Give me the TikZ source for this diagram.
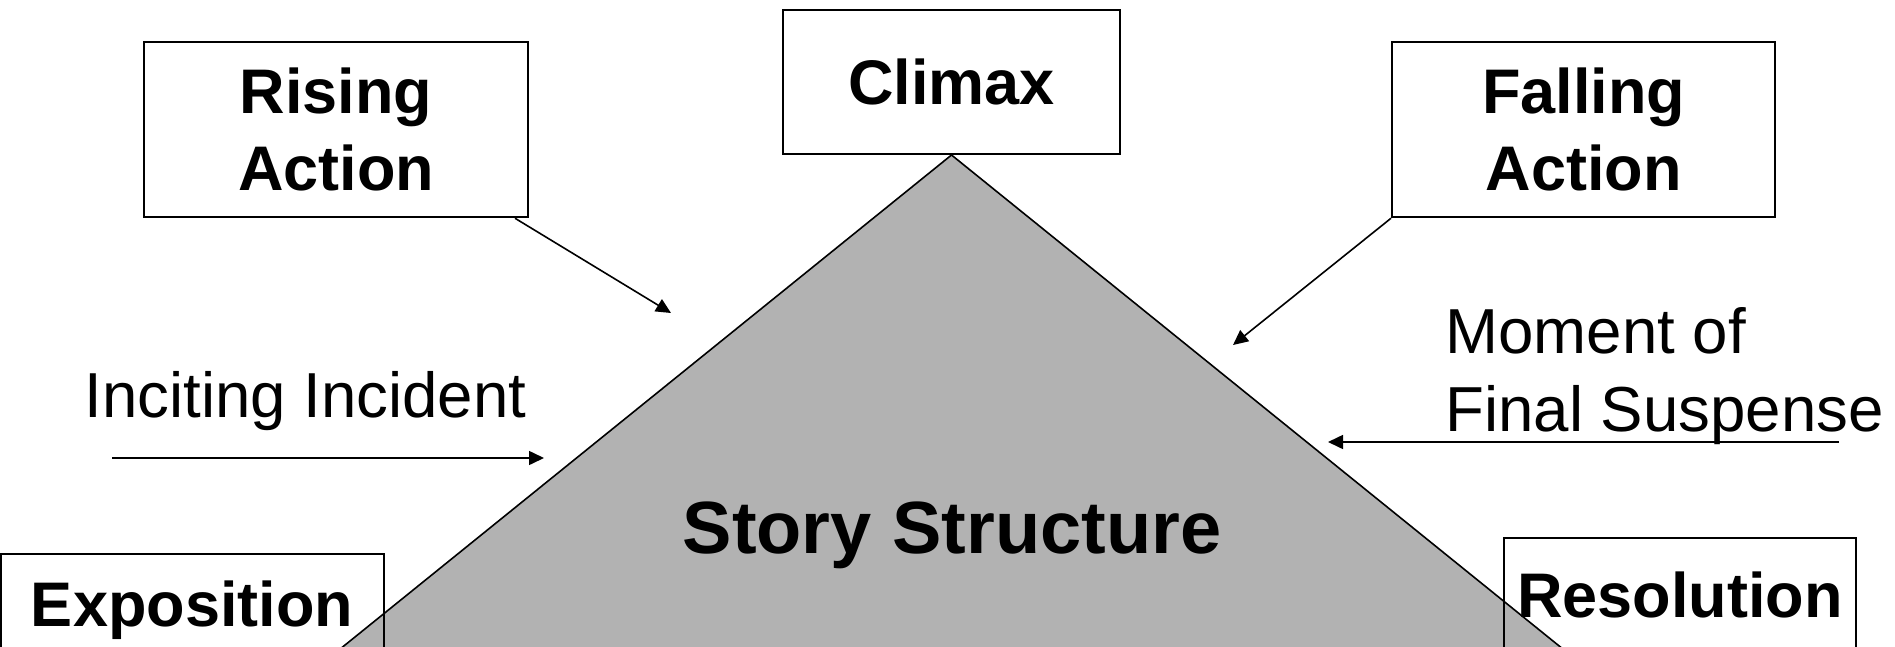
\documentclass[tikz,border=0pt]{standalone}
\usepackage{fontspec}
\setmainfont{Liberation Sans}
\usetikzlibrary{arrows.meta,calc}
\definecolor{trigray}{RGB}{178,178,178}
\begin{document}
\begin{tikzpicture}[x=0.5pt,y=-0.5pt,
  frame/.style={draw=black, line width=1pt, inner sep=0pt},
  box/.style={frame, align=center, font=\bfseries\fontsize{31.5pt}{38.5pt}\selectfont},
  title/.style={inner sep=0pt, font=\bfseries\fontsize{31.5pt}{38.5pt}\selectfont},
  plain/.style={inner sep=0pt, align=left, font=\fontsize{31.8pt}{39pt}\selectfont},
  conn/.style={line width=0.8pt, -{Triangle[length=7.5pt,width=7pt]}}]
\path[use as bounding box] (0,0) rectangle (1895,647);
\begin{scope}
\clip (0,0) rectangle (1895,647);
% top boxes
\node[box, fill=white, minimum width=168.5pt, minimum height=72pt] (climax) at (951.5,82) {Climax};
\node[box, fill=white, minimum width=192pt, minimum height=87.75pt] (rising) at (336,129.5) {Rising\\Action};
\node[box, fill=white, minimum width=191.5pt, minimum height=87.75pt] (falling) at (1583.5,129.5) {Falling\\Action};
% triangle
\filldraw[fill=trigray, draw=black, line width=0.8pt] (climax.south) -- ++(-700.5,566) -- ++(1401,0) -- cycle;
\node[title, font=\bfseries\fontsize{37pt}{44pt}\selectfont, anchor=base] (story) at (952,553) {Story Structure};
% bottom boxes
\node[frame, minimum width=191.5pt, minimum height=103pt] (expo) at (192.5,657) {};
\node[title, anchor=base] (expotxt) at (192,626) {Exposition};
\node[frame, minimum width=176pt, minimum height=111pt] (resol) at (1680,649) {};
\node[title, anchor=base] (resoltxt) at (1680,617) {Resolution};
% side labels
\node[plain, anchor=base west] (inciting) at (84,417) {Inciting Incident};
\node[plain, anchor=north west] (moment) at (1445,307) {Moment of\\Final Suspense};
% connectors
\coordinate (riseTip) at (671,313);
\coordinate (fallTip) at (1233,345);
\coordinate (incStart) at (112,458);
\coordinate (incTip) at (544,458);
\coordinate (momStart) at (1839,442);
\coordinate (momTip) at (1328,442);
\draw[conn] ($(rising.south east)+(-14,0)$) -- (riseTip);
\draw[conn] (falling.south west) -- (fallTip);
\draw[conn] (incStart) -- (incTip);
\draw[conn] (momStart) -- (momTip);
\end{scope}
\end{tikzpicture}
\end{document}
